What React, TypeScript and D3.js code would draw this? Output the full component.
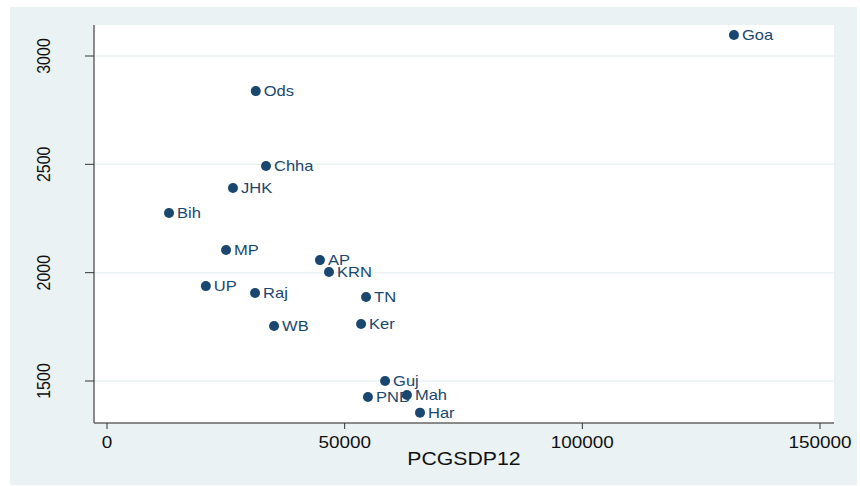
import React, { useEffect, useRef } from "react";
import * as d3 from "d3";

// states and their values
const states = ["Goa", "Ods", "Chha", "JHK", "Bih", "MP", "AP", "KRN", "UP", "Raj", "TN", "WB", "Ker", "Guj", "Mah", "PNB", "Har"];
const pcgsdp12 = [131900, 31300, 33450, 26500, 13050, 25050, 44800, 46700, 20800, 31150, 54500, 35150, 53450, 58500, 63100, 54900, 65850];
const yValues = [3097, 2838, 2492, 2391, 2275, 2105, 2058, 2003, 1938, 1906, 1888, 1754, 1763, 1500, 1435, 1426, 1354];

const xTicks = [0, 50000, 100000, 150000];
const yTicks = [1500, 2000, 2500, 3000];

const W = 860;
const H = 486;
const NAVY = "#1a476f";
const SX = 1.18; // text in the original is a little wider than Arial

const App = () => {
  const ref = useRef<SVGSVGElement>(null);

  useEffect(() => {
    const svg = d3.select(ref.current);
    svg.selectAll("*").remove();

    const x = d3.scaleLinear().domain([0, 150000]).range([107, 820]);
    const y = d3.scaleLinear().domain([1500, 3000]).range([381, 56]);
    const left = 94, right = 834, top = 25, bottom = 423;

    svg.append("rect").attr("x", 10).attr("y", 7).attr("width", 847).attr("height", 478).attr("fill", "#eaf2f3");
    svg.append("rect").attr("x", left).attr("y", top).attr("width", right - left).attr("height", bottom - top).attr("fill", "#fff");

    // grid lines
    svg.selectAll(".grid").data(yTicks).enter().append("line")
      .attr("x1", left).attr("x2", right)
      .attr("y1", (d) => y(d)).attr("y2", (d) => y(d))
      .attr("stroke", "#eaf2f3").attr("stroke-width", 1.5);

    // axes
    const font = "'Liberation Sans', Arial, sans-serif";
    svg.append("line").attr("x1", left).attr("x2", left).attr("y1", top).attr("y2", bottom)
      .attr("stroke", "#666").attr("stroke-width", 1.5);
    svg.append("line").attr("x1", left).attr("x2", right).attr("y1", bottom).attr("y2", bottom)
      .attr("stroke", "#666").attr("stroke-width", 1.5);

    svg.selectAll(".yt").data(yTicks).enter().append("line")
      .attr("x1", 85).attr("x2", left).attr("y1", (d) => y(d)).attr("y2", (d) => y(d))
      .attr("stroke", "#333").attr("stroke-width", 1);
    svg.selectAll(".yl").data(yTicks).enter().append("text")
      .attr("transform", (d) => `translate(50,${y(d)}) rotate(-90) scale(1,${SX})`)
      .attr("text-anchor", "middle")
      .attr("font-family", font).attr("font-size", 16).attr("fill", "#111")
      .text((d) => d);

    svg.selectAll(".xt").data(xTicks).enter().append("line")
      .attr("x1", (d) => x(d)).attr("x2", (d) => x(d)).attr("y1", bottom).attr("y2", bottom + 6)
      .attr("stroke", "#333").attr("stroke-width", 1);
    svg.selectAll(".xl").data(xTicks).enter().append("text")
      .attr("transform", (d) => `translate(${x(d)},448) scale(${SX},1)`)
      .attr("text-anchor", "middle")
      .attr("font-family", font).attr("font-size", 16).attr("fill", "#111")
      .text((d) => d);

    svg.append("text").attr("transform", `translate(464,465) scale(${SX},1)`).attr("text-anchor", "middle")
      .attr("font-family", font).attr("font-size", 18).attr("fill", "#111")
      .text("PCGSDP12");

    const data = states.map((s, i) => ({ s, x: pcgsdp12[i], y: yValues[i] }));
    const g = svg.append("g");
    g.selectAll("circle").data(data).enter().append("circle")
      .attr("cx", (d) => x(d.x)).attr("cy", (d) => y(d.y)).attr("r", 5)
      .attr("fill", NAVY);
    g.selectAll("text").data(data).enter().append("text")
      .attr("transform", (d) => `translate(${x(d.x) + 8},${y(d.y) + 5}) scale(${SX},1)`)
      .attr("font-family", font).attr("font-size", 14).attr("fill", NAVY)
      .text((d) => d.s);
  }, []);

  return <svg ref={ref} width={W} height={H} style={{ position: "absolute", left: 0, top: 0 }} />;
};

export default App;
